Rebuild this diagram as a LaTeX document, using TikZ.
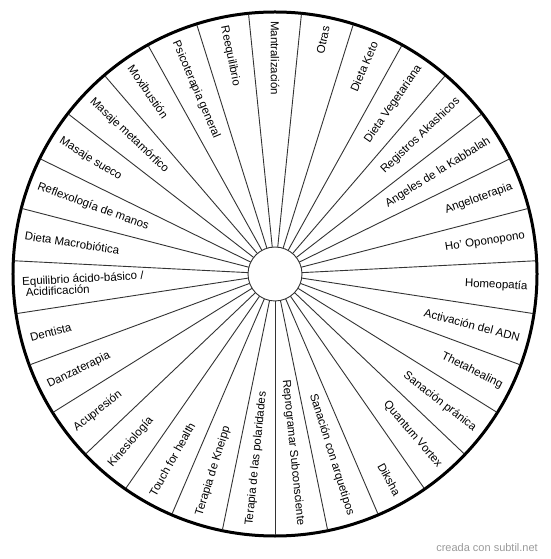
\documentclass[tikz,border=0pt]{standalone}
\usepackage{fontspec}
\setmainfont{Liberation Sans}
\usepackage{tikz}
\usetikzlibrary{positioning}

\definecolor{spokegray}{HTML}{333333}
\definecolor{footgray}{HTML}{9A9A9A}

\begin{document}
\begin{tikzpicture}[
    x=1pt, y=1pt,
    rim/.style={
        draw=black,
        line width=3pt
    },
    spoke/.style={
        draw=spokegray,
        line width=0.9pt
    },
    hub/.style={
        circle,
        draw=spokegray,
        line width=0.9pt,
        fill=white,
        minimum size=54pt,
        inner sep=0pt
    },
    lbl/.style={
        inner sep=0pt,
        align=left,
        font=\fontsize{11.5}{11}\selectfont
    },
    footer/.style={
        text=footgray,
        inner sep=0pt,
        font=\fontsize{11}{13}\selectfont
    }
]
\useasboundingbox (-275,-285) rectangle (275,274);
% WHEEL
\draw [rim, fill=white] (0,0) circle (262);
\foreach \k in {0,...,30} {
    \pgfmathsetmacro{\b}{-90+\k*360/31}
    \draw [spoke] (\b:27) -- (\b:261);
}
\node (hub) [hub] at (0,0) {};
% SECTOR LABELS
\foreach \txt [count=\i] in {
    Reprogramar Subconsciente, Sanación con arquetipos, Diksha,
    Quantum Vortex, Sanación pránica, Thetahealing, Activación del ADN,
    Homeopatía, Ho' Oponopono, Angeloterapia, Angeles de la Kabbalah,
    Registros Akashicos, Dieta Vegetariana, Dieta Keto, Otras,
    Mantralización, Reequilibrio, Psicoterapia general, Moxibustión,
    Masaje metamórfico, Masaje sueco, Reflexología de manos,
    Dieta Macrobiótica, {Equilibrio ácido-básico /\\\hspace*{3pt}Acidificación},
    Dentista, Danzaterapia, Acupresión, Kinesiología, Touch for health,
    Terapia de Kneipp, Terapia de las polaridades} {
    \pgfmathsetmacro{\ang}{-90+(\i-0.5)*360/31}
    \pgfmathtruncatemacro{\flip}{and(\ang>89.9,\ang<269.9)}
    \ifnum\flip=1
        \node (l\i) [lbl, anchor=west, rotate=\ang+180] at (\ang:253) {\txt};
    \else
        \node (l\i) [lbl, anchor=east, rotate=\ang] at (\ang:253) {\txt};
    \fi
}
% FOOTER
\node (credit) [footer, anchor=east] at (263,-274) {creada con subtil.net};
\end{tikzpicture}
\end{document}
